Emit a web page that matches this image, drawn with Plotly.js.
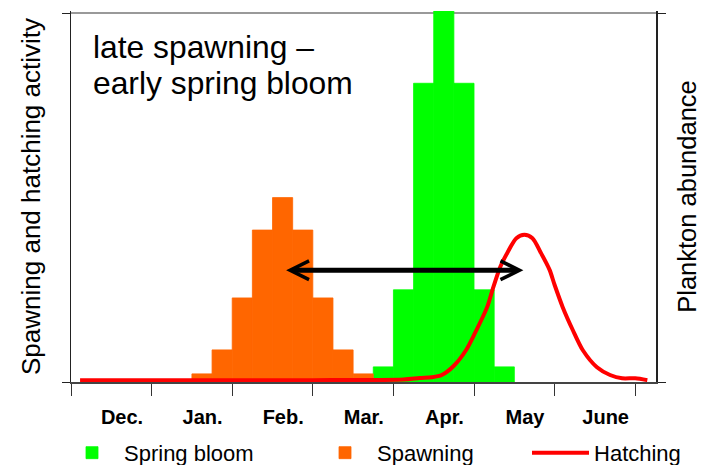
<!DOCTYPE html>
<html>
<head>
<meta charset="utf-8">
<script src="https://cdn.plot.ly/plotly-3.0.1.min.js"></script>
<style>
  html, body { margin: 0; padding: 0; background: #ffffff; }
  #chart { width: 703px; height: 465px; }
</style>
</head>
<body>
<div id="chart"></div>
<script>
// ---- data (x in weeks counted from the start of December) ----
const monthLabels = ['Dec.', 'Jan.', 'Feb.', 'Mar.', 'Apr.', 'May', 'June', ''];
const monthStartWeeks = [0, 4, 8, 12, 16, 20, 24, 28];

const spawnWeeks = [6.5, 7.5, 8.5, 9.5, 10.5, 11.5, 12.5, 13.5, 14.5];
const spawnActivity = [2.2, 8.7, 22.8, 41.2, 50, 41.2, 22.8, 8.7, 2.2];

const bloomWeeks = [15.5, 16.5, 17.5, 18.5, 19.5, 20.5, 21.5];
const bloomAbundance = [4.1, 25, 81, 101, 81, 25, 4.1];

const hatchWeeks = [0.45, 4, 8, 12, 16.5, 17.3, 17.9, 18.4, 19.0, 19.6, 20.05, 20.65, 20.95, 21.3, 21.65, 22.1, 22.5, 22.9, 23.3, 23.75, 24.0, 24.4, 24.9, 25.4, 26.1, 26.75, 27.35, 28.0, 28.6];
const hatchActivity = [0.5, 0.5, 0.5, 0.5, 0.7, 1.1, 1.3, 1.9, 4.4, 8.6, 13.3, 20.3, 25.6, 31.2, 35.0, 39.0, 39.9, 39.0, 35.2, 30.4, 26.3, 20.3, 14.1, 8.6, 4.0, 1.9, 1.0, 1.0, 0.5];

// arrow between spawning peak and hatching peak
const arrowStartWeek = 10.6;
const arrowEndWeek = 22.45;
const arrowLevel = 30.3;

const FONT = 'Liberation Sans, Arial, Helvetica, sans-serif';
const Y_RANGE = [0, 100.6];

const traces = [
  {
    type: 'bar', name: 'Spring bloom',
    x: bloomWeeks, y: bloomAbundance, width: 1,
    marker: { color: '#00ff00', line: { width: 0.8, color: '#00ff00' } },
    yaxis: 'y', cliponaxis: false, hoverinfo: 'skip',
    legend: 'legend'
  },
  {
    type: 'bar', name: 'Spawning',
    x: spawnWeeks, y: spawnActivity, width: 1,
    marker: { color: '#ff6600', line: { width: 0.8, color: '#ff6600' } },
    yaxis: 'y2', hoverinfo: 'skip',
    legend: 'legend2'
  },
  {
    type: 'scatter', mode: 'lines', name: 'Hatching',
    x: hatchWeeks, y: hatchActivity,
    line: { color: '#ff0000', width: 4, shape: 'spline', smoothing: 0.8 },
    yaxis: 'y2', hoverinfo: 'skip',
    legend: 'legend3'
  }
];

function legendAt(xPaper, itemW) {
  return {
    orientation: 'h',
    x: xPaper, xanchor: 'left',
    y: -0.191, yanchor: 'middle',
    font: { family: FONT, size: 22, color: '#000' },
    itemwidth: itemW,
    bgcolor: 'rgba(0,0,0,0)',
    borderwidth: 0
  };
}

const layout = {
  width: 703, height: 465,
  margin: { l: 71, r: 47, t: 11, b: 83, pad: 0, autoexpand: false },
  paper_bgcolor: '#ffffff', plot_bgcolor: '#ffffff',
  font: { family: FONT, color: '#000000' },
  showlegend: true,
  barmode: 'overlay',
  xaxis: {
    range: [0, 29.03],
    tickmode: 'array', tickvals: monthStartWeeks, ticktext: monthLabels,
    ticks: 'outside', ticklen: 12, tickwidth: 1, tickcolor: '#333',
    ticklabelshift: 51, ticklabelstandoff: 4,
    tickfont: { family: FONT, size: 20, color: '#000', weight: 'bold' },
    showline: true, linecolor: '#444', linewidth: 1.5,
    showgrid: false, zeroline: false, fixedrange: true
  },
  yaxis: {
    side: 'right',
    range: Y_RANGE,
    tickmode: 'array', tickvals: [0, 100],
    showticklabels: false,
    ticks: 'outside', ticklen: 8, tickcolor: '#222',
    showline: true, linecolor: '#222', linewidth: 1.5,
    showgrid: true, gridcolor: '#999999', gridwidth: 1.5,
    zeroline: false,
    title: { text: 'Plankton abundance', font: { family: FONT, size: 25.5, color: '#000' }, standoff: 13 }
  },
  yaxis2: {
    overlaying: 'y', side: 'left',
    range: Y_RANGE,
    tickmode: 'array', tickvals: [0, 100],
    showticklabels: false,
    ticks: 'outside', ticklen: 8, tickcolor: '#222',
    showline: true, linecolor: '#222', linewidth: 1.5,
    showgrid: false, zeroline: false,
    title: { text: 'Spawning and hatching activity', font: { family: FONT, size: 26, color: '#000' }, standoff: 13 }
  },
  legend: legendAt(-0.0188, 54),
  legend2: legendAt(0.4137, 54),
  legend3: legendAt(0.7795, 57),
  annotations: [
    {
      xref: 'paper', yref: 'paper', x: 0.035, y: 0.903,
      xanchor: 'left', yanchor: 'middle', showarrow: false,
      text: 'late spawning –',
      font: { family: FONT, size: 31.8, color: '#000' }
    },
    {
      xref: 'paper', yref: 'paper', x: 0.035, y: 0.806,
      xanchor: 'left', yanchor: 'middle', showarrow: false,
      text: 'early spring bloom',
      font: { family: FONT, size: 31.8, color: '#000' }
    },
    {
      xref: 'x', yref: 'y2', axref: 'x', ayref: 'y2',
      x: arrowEndWeek, y: arrowLevel, ax: arrowStartWeek, ay: arrowLevel,
      text: '', showarrow: true,
      arrowside: 'end+start',
      arrowhead: 5, startarrowhead: 5,
      arrowsize: 0.74, startarrowsize: 0.74,
      arrowwidth: 5, arrowcolor: '#000000',
      standoff: 0, startstandoff: 0
    }
  ]
};

Plotly.newPlot('chart', traces, layout, { staticPlot: true, displayModeBar: false });
</script>
</body>
</html>
